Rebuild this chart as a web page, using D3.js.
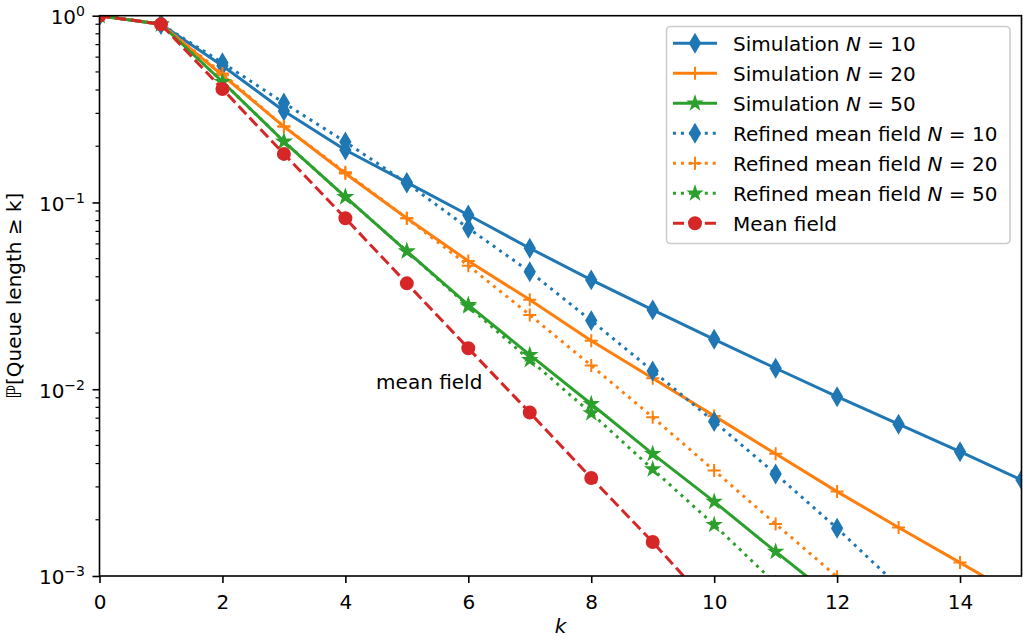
<!DOCTYPE html>
<html>
<head>
<meta charset="utf-8">
<script src="https://cdn.jsdelivr.net/npm/d3@7"></script>
<style>
  body { margin: 0; background: #fff; }
  svg { display: block; font-family: "DejaVu Sans", sans-serif; }
</style>
</head>
<body>
<svg id="chart"></svg>
<script>
// k values on x axis
const kValues = [0, 1, 2, 3, 4, 5, 6, 7, 8, 9, 10, 11, 12, 13, 14, 15];

// series (lines run below 1e-3 and get clipped)
const simN10 = [1, 0.9, 0.54, 0.309, 0.191, 0.128, 0.0857, 0.0569, 0.0385, 0.0266, 0.0185, 0.01295, 0.00912, 0.0065, 0.00463, 0.00327];
const simN20 = [1, 0.9, 0.48, 0.255, 0.143, 0.0823, 0.0486, 0.0301, 0.0182, 0.01145, 0.0072, 0.00451, 0.00283, 0.00182, 0.00118, 0.00076];
const simN50 = [1, 0.9, 0.443, 0.212, 0.107, 0.0548, 0.0283, 0.01527, 0.00834, 0.00451, 0.0025, 0.00135, 0.00074];
const refN10 = [1, 0.9, 0.56, 0.341, 0.211, 0.127, 0.0728, 0.0426, 0.0233, 0.01253, 0.00671, 0.00352, 0.0018, 0.00088];
const refN20 = [1, 0.9, 0.49, 0.255, 0.145, 0.0823, 0.0459, 0.025, 0.0134, 0.00708, 0.00367, 0.0019, 0.00099];
const refN50 = [1, 0.9, 0.443, 0.212, 0.107, 0.0548, 0.0278, 0.01435, 0.00744, 0.00373, 0.00188, 0.00091];
const meanField = [1, 0.9, 0.405, 0.182, 0.0823, 0.0369, 0.01657, 0.0075, 0.00335, 0.00152, 0.00066];

const xTicks = [0, 2, 4, 6, 8, 10, 12, 14];
const yTicks = [1e-3, 1e-2, 1e-1, 1];
const yExponents = ["\u22123", "\u22122", "\u22121", "0"];

const series = [
  { label: "Simulation ", n: "10", values: simN10, color: "#1f77b4", dash: null, marker: "diamond" },
  { label: "Simulation ", n: "20", values: simN20, color: "#ff7f0e", dash: null, marker: "plus" },
  { label: "Simulation ", n: "50", values: simN50, color: "#2ca02c", dash: null, marker: "star" },
  { label: "Refined mean field ", n: "10", values: refN10, color: "#1f77b4", dash: "3,4.95", marker: "diamond" },
  { label: "Refined mean field ", n: "20", values: refN20, color: "#ff7f0e", dash: "3,4.95", marker: "plus" },
  { label: "Refined mean field ", n: "50", values: refN50, color: "#2ca02c", dash: "3,4.95", marker: "star" },
  { label: "Mean field", n: null, values: meanField, color: "#d62728", dash: "11.1,4.8", marker: "circle" }
];

const W = 1023, H = 638;
const plotLeft = 99.5, plotRight = 1021.5, plotTop = 15.7, plotBottom = 576;

const svg = d3.select("#chart").attr("width", W).attr("height", H);

const x = d3.scaleLinear().domain([0, 15]).range([plotLeft, plotRight]);
const y = d3.scaleLog().domain([1e-3, 1]).range([plotBottom, plotTop]);

svg.append("defs").append("clipPath").attr("id", "plotclip")
  .append("rect")
  .attr("x", plotLeft).attr("y", plotTop)
  .attr("width", plotRight - plotLeft).attr("height", plotBottom - plotTop);

function markerPath(type) {
  if (type === "diamond") return "M0,-8.5L5,0L0,8.5L-5,0Z";
  if (type === "plus") return "M-6.5,0H6.5M0,-6.5V6.5";
  if (type === "star") return d3.symbol(d3.symbolStar, 40.4)();
  return d3.symbol(d3.symbolCircle, Math.PI * 36)();
}

function drawMarker(g, type, color) {
  g.append("path")
    .attr("d", markerPath(type))
    .attr("fill", type === "plus" ? "none" : color)
    .attr("stroke", color)
    .attr("stroke-width", 2)
    .attr("stroke-linejoin", "miter");
}

const plot = svg.append("g").attr("clip-path", "url(#plotclip)");

const line = d3.line()
  .x((d, i) => x(kValues[i]))
  .y(d => y(d));

series.forEach(s => {
  const g = plot.append("g");
  g.append("path")
    .attr("d", line(s.values))
    .attr("fill", "none")
    .attr("stroke", s.color)
    .attr("stroke-width", 3)
    .attr("stroke-dasharray", s.dash)
    .attr("stroke-linejoin", "round");
  s.values.forEach((v, i) => {
    const m = g.append("g").attr("transform", `translate(${x(kValues[i])},${y(v)})`);
    drawMarker(m, s.marker, s.color);
  });
});

// axes
const xAxis = svg.append("g")
  .attr("transform", `translate(0,${plotBottom})`)
  .call(d3.axisBottom(x).tickValues(xTicks).tickSize(7).tickPadding(7).tickFormat(d3.format("d")));

const yAxis = svg.append("g")
  .attr("transform", `translate(${plotLeft},0)`)
  .call(d3.axisLeft(y).tickValues(yTicks).tickSize(7).tickPadding(7).tickFormat(""));

// minor ticks for the log axis
const minor = [];
[1e-3, 1e-2, 1e-1].forEach(base => {
  for (let m = 2; m <= 9; m++) minor.push(base * m);
});
svg.append("g").selectAll("line")
  .data(minor)
  .enter().append("line")
  .attr("x1", plotLeft).attr("x2", plotLeft - 4)
  .attr("y1", d => y(d)).attr("y2", d => y(d))
  .attr("stroke", "#000").attr("stroke-width", 1.2);

[xAxis, yAxis].forEach(a => {
  a.select(".domain").remove();
  a.selectAll(".tick line").attr("stroke", "#000").attr("stroke-width", 1.6);
  a.selectAll("text").attr("font-size", 20).attr("font-family", "DejaVu Sans").attr("fill", "#000");
});
xAxis.selectAll("text").attr("dy", "0.95em");

// y tick labels 10^n
yTicks.forEach((t, i) => {
  const txt = svg.append("text")
    .attr("x", 85).attr("y", y(t) + 8.3)
    .attr("text-anchor", "end")
    .attr("font-size", 20);
  txt.append("tspan").text("10");
  txt.append("tspan").attr("font-size", 14).attr("dy", -8).text(yExponents[i]);
});

// frame
svg.append("rect")
  .attr("x", plotLeft).attr("y", plotTop)
  .attr("width", plotRight - plotLeft).attr("height", plotBottom - plotTop)
  .attr("fill", "none").attr("stroke", "#000").attr("stroke-width", 1.6);

// axis labels
svg.append("text")
  .attr("x", (plotLeft + plotRight) / 2).attr("y", 633)
  .attr("text-anchor", "middle")
  .attr("font-size", 20).attr("font-style", "italic")
  .text("k");

svg.append("text")
  .attr("transform", `translate(21,${(plotTop + plotBottom) / 2}) rotate(-90)`)
  .attr("text-anchor", "middle")
  .attr("font-size", 20)
  .text("\u2119[Queue length \u2265 k]");

// annotation
svg.append("text")
  .attr("x", x(4.5)).attr("y", y(0.01))
  .attr("font-size", 20)
  .text("mean field");

// legend
const legend = svg.append("g");
legend.append("rect")
  .attr("x", 666.5).attr("y", 26.5)
  .attr("width", 343.5).attr("height", 217)
  .attr("rx", 4).attr("ry", 4)
  .attr("fill", "#fff").attr("fill-opacity", 0.8)
  .attr("stroke", "#cccccc").attr("stroke-width", 1.6);

series.forEach((s, i) => {
  const cy = 43.3 + i * 30;
  legend.append("line")
    .attr("x1", 673).attr("x2", 717)
    .attr("y1", cy).attr("y2", cy)
    .attr("stroke", s.color).attr("stroke-width", 3)
    .attr("stroke-dasharray", s.dash);
  const m = legend.append("g").attr("transform", `translate(695,${cy})`);
  drawMarker(m, s.marker, s.color);
  const t = legend.append("text")
    .attr("x", 733).attr("y", cy + 7.3)
    .attr("font-size", 20);
  t.append("tspan").text(s.label);
  if (s.n) {
    t.append("tspan").attr("font-style", "italic").text("N");
    t.append("tspan").text(" = " + s.n);
  }
});
</script>
</body>
</html>
